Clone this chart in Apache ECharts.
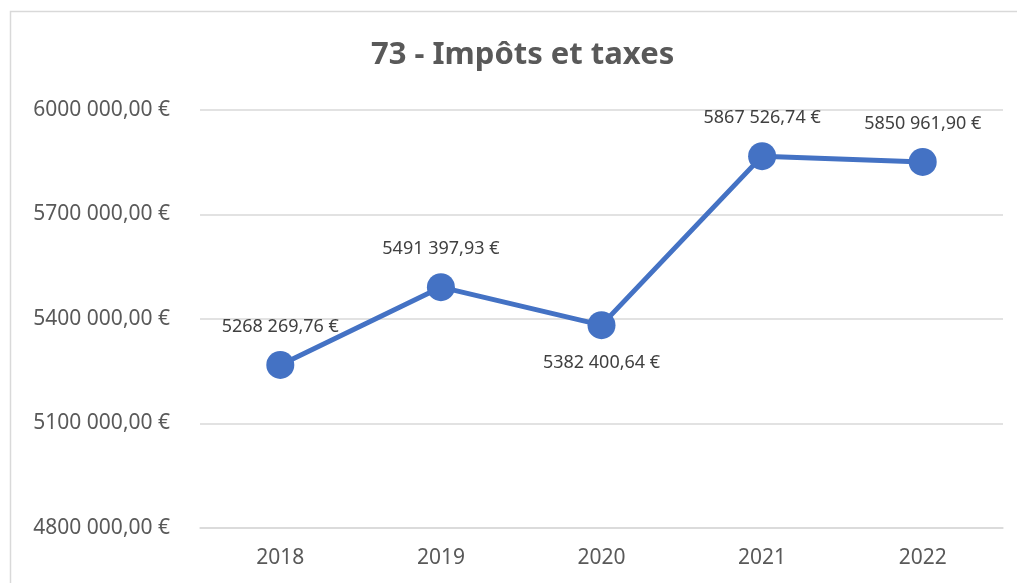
<!DOCTYPE html>
<html>
<head>
<meta charset="utf-8">
<script src="https://cdn.jsdelivr.net/npm/echarts@6/dist/echarts.min.js"></script>
<style>
html,body{margin:0;padding:0;background:#fff;}
#c{width:1017px;height:583px;}
</style>
</head>
<body>
<div id="c"></div>
<script>
const titleText = "73 - Impôts et taxes";
const categories = ["2018", "2019", "2020", "2021", "2022"];
const values = [5268269.76, 5491397.93, 5382400.64, 5867526.74, 5850961.90];
const labelPositions = ["top", "top", "bottom", "top", "top"];
const yMin = 4800000, yMax = 6000000, yStep = 300000;

function fmt(v) {
  const neg = v < 0;
  v = Math.abs(v);
  const s = v.toFixed(2);
  const [ip, dp] = s.split(".");
  let intStr = ip;
  if (ip.length > 3) intStr = ip.slice(0, ip.length - 3) + " " + ip.slice(ip.length - 3);
  return (neg ? "-" : "") + intStr + "," + dp + " €";
}

const chart = echarts.init(document.getElementById("c"), null, {renderer: "canvas"});
const font = "'Noto Sans', 'DejaVu Sans', sans-serif";
chart.setOption({
  backgroundColor: "#ffffff",
  animation: false,
  title: {
    text: titleText,
    left: 366,
    top: 35,
    textStyle: {fontFamily: font, fontSize: 31, fontWeight: "bold", color: "#595959"}
  },
  graphic: [{
    type: "rect",
    shape: {x: 10.5, y: 11.5, width: 1100, height: 700},
    style: {fill: null, stroke: "#d9d9d9", lineWidth: 1.5},
    silent: true
  }],
  grid: {left: 200, right: 14, top: 110, bottom: 55, containLabel: false},
  xAxis: {
    type: "category",
    data: categories,
    boundaryGap: true,
    axisLine: {show: true, lineStyle: {color: "#d9d9d9", width: 1.5}},
    axisTick: {show: false},
    axisLabel: {fontFamily: font, fontSize: 21, color: "#595959", margin: 20}
  },
  yAxis: {
    type: "value",
    min: yMin,
    max: yMax,
    interval: yStep,
    axisLine: {show: false},
    axisTick: {show: false},
    splitLine: {lineStyle: {color: "#d9d9d9", width: 1.5}},
    axisLabel: {fontFamily: font, fontSize: 21, color: "#595959", margin: 30, formatter: v => fmt(v)}
  },
  series: [{
    type: "line",
    data: values.map((v, i) => ({value: v, label: {position: labelPositions[i]}})),
    symbol: "circle",
    symbolSize: 28,
    lineStyle: {color: "#4472C4", width: 5},
    itemStyle: {color: "#4472C4"},
    label: {
      show: true,
      distance: 15,
      fontFamily: font,
      fontSize: 18,
      color: "#404040",
      formatter: p => fmt(p.value)
    }
  }]
});
</script>
</body>
</html>
